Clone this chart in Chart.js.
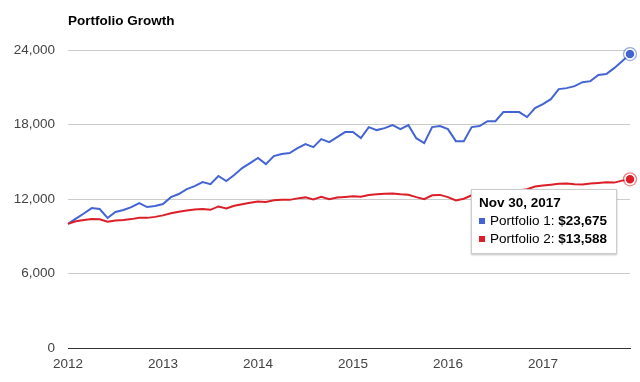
<!DOCTYPE html>
<html>
<head>
<meta charset="utf-8">
<script src="https://cdn.jsdelivr.net/npm/chart.js@4.4.1/dist/chart.umd.min.js"></script>
<style>
  html, body { margin: 0; padding: 0; background: #fff; }
  #wrap { position: relative; width: 640px; height: 382px; font-family: "Liberation Sans", Arial, sans-serif; }
  #title { position: absolute; left: 68px; top: 14px; font-weight: bold; font-size: 13.5px; line-height: 14px; color: #000; white-space: nowrap; }
  #tip { position: absolute; left: 471px; top: 189px; width: 146px; height: 65px; box-sizing: border-box;
         background: #fff; border: 1px solid #ccc; box-shadow: 0 1px 2px rgba(0,0,0,0.25);
         padding: 4px 0 5px 7px; font-size: 13.5px; line-height: 18px; color: #000; white-space: nowrap; }
  #tip .t { font-weight: bold; }
  #tip .sq { display: inline-block; width: 6px; height: 6px; margin-right: 5px; vertical-align: 1px; }
  #tip b { font-weight: bold; }
</style>
</head>
<body>
<div id="wrap">
  <canvas id="c" width="640" height="382"></canvas>
  <div id="title"></div>
  <div id="tip"></div>
</div>
<script>
const chartTitle = "Portfolio Growth";
const seriesNames = ["Portfolio 1", "Portfolio 2"];
const seriesColors = ["#4464d4", "#dc1e28"];
const startYear = 2012;
const yTicks = [0, 6000, 12000, 18000, 24000];

// monthly month-end values, Dec 31 2011 .. Nov 30 2017
const portfolio1 = [
  10000, 10420, 10830, 11270, 11190, 10470, 10950, 11110, 11350, 11670, 11350, 11430,
  11590, 12150, 12400, 12800, 13040, 13360, 13200, 13850, 13440, 13930, 14490, 14890,
  15300, 14810, 15460, 15620, 15700, 16100, 16420, 16180, 16820, 16580, 16990, 17390,
  17390, 16900, 17790, 17550, 17710, 17950, 17630, 17950, 16900, 16500, 17790, 17870,
  17630, 16660, 16660, 17790, 17870, 18270, 18270, 19000, 19000, 19000, 18600, 19320,
  19640, 20040, 20850, 20930, 21090, 21410, 21490, 21980, 22060, 22540, 23100, 23675
];
const portfolio2 = [
  10000, 10200, 10300, 10380, 10360, 10170, 10260, 10300, 10380, 10480, 10480, 10560,
  10680, 10850, 10980, 11080, 11150, 11190, 11130, 11400, 11240, 11450, 11580, 11700,
  11800, 11760, 11900, 11930, 11930, 12050, 12130, 11960, 12180, 11980, 12120, 12170,
  12230, 12180, 12330, 12380, 12420, 12440, 12380, 12340, 12150, 11990, 12300, 12330,
  12150, 11880, 12020, 12300, 12400, 12480, 12540, 12600, 12640, 12690, 12790, 13010,
  13090, 13150, 13220, 13240, 13190, 13160, 13250, 13290, 13340, 13320, 13480, 13588
];

const monthNames = ["Jan","Feb","Mar","Apr","May","Jun","Jul","Aug","Sep","Oct","Nov","Dec"];
const labels = portfolio1.map((_, i) => {
  const d = new Date(startYear, i, 0);
  return monthNames[d.getMonth()] + " " + d.getDate() + ", " + d.getFullYear();
});

document.getElementById("title").textContent = chartTitle;

const fmt = v => v.toLocaleString("en-US");
const last = labels.length - 1;
const tip = document.getElementById("tip");
const tipTitle = document.createElement("div");
tipTitle.className = "t";
tipTitle.textContent = labels[last];
tip.appendChild(tipTitle);
[portfolio1, portfolio2].forEach((arr, k) => {
  const row = document.createElement("div");
  const sq = document.createElement("span");
  sq.className = "sq"; sq.style.background = seriesColors[k];
  row.appendChild(sq);
  row.appendChild(document.createTextNode(seriesNames[k] + ": "));
  const b = document.createElement("b");
  b.textContent = "$" + fmt(arr[last]);
  row.appendChild(b);
  tip.appendChild(row);
});

const endRing = {
  id: "endRing",
  afterDatasetsDraw(chart) {
    const ctx = chart.ctx;
    chart.data.datasets.forEach((ds, di) => {
      const meta = chart.getDatasetMeta(di);
      const el = meta.data[meta.data.length - 1];
      if (!el) return;
      ctx.save();
      ctx.beginPath();
      ctx.arc(el.x, el.y, 6.5, 0, Math.PI * 2);
      ctx.lineWidth = 1.3;
      ctx.strokeStyle = ds.borderColor;
      ctx.globalAlpha = 0.55;
      ctx.stroke();
      ctx.restore();
    });
  }
};

const mkDs = (name, data, color) => ({
  label: name,
  data: data,
  borderColor: color,
  backgroundColor: color,
  borderWidth: 2,
  tension: 0,
  pointRadius: data.map((_, i) => i === data.length - 1 ? 5 : 0),
  pointBorderColor: "#fff",
  pointBorderWidth: 1.5,
  pointBackgroundColor: color
});

new Chart(document.getElementById("c"), {
  type: "line",
  data: {
    labels: labels,
    datasets: [
      mkDs(seriesNames[1], portfolio2, seriesColors[1]),
      mkDs(seriesNames[0], portfolio1, seriesColors[0])
    ]
  },
  options: {
    responsive: false,
    animation: false,
    events: [],
    layout: { padding: { top: 50, right: 10, left: 0, bottom: 0 } },
    plugins: { legend: { display: false }, tooltip: { enabled: false }, title: { display: false } },
    scales: {
      x: {
        type: "category",
        offset: false,
        grid: { display: false, drawTicks: false },
        border: { display: true, color: "#333", width: 1 },
        afterFit: s => { s.height = 34; },
        ticks: {
          autoSkip: false,
          maxRotation: 0,
          padding: 8,
          color: "#444",
          font: { family: "'Liberation Sans', Arial, sans-serif", size: 13.5 },
          callback: (v, i) => (i % 12 === 0 ? String(startYear + i / 12) : null)
        }
      },
      y: {
        min: yTicks[0],
        max: yTicks[yTicks.length - 1],
        afterBuildTicks: s => { s.ticks = yTicks.map(v => ({ value: v })); },
        afterFit: s => { s.width = 68; },
        grid: { color: ctx => (ctx.tick && ctx.tick.value === 0 ? "#333" : "#ccc"), drawTicks: false, lineWidth: 1 },
        border: { display: false },
        ticks: {
          padding: 13,
          color: "#444",
          font: { family: "'Liberation Sans', Arial, sans-serif", size: 13.5 },
          callback: v => fmt(v)
        }
      }
    }
  },
  plugins: [endRing]
});
</script>
</body>
</html>
